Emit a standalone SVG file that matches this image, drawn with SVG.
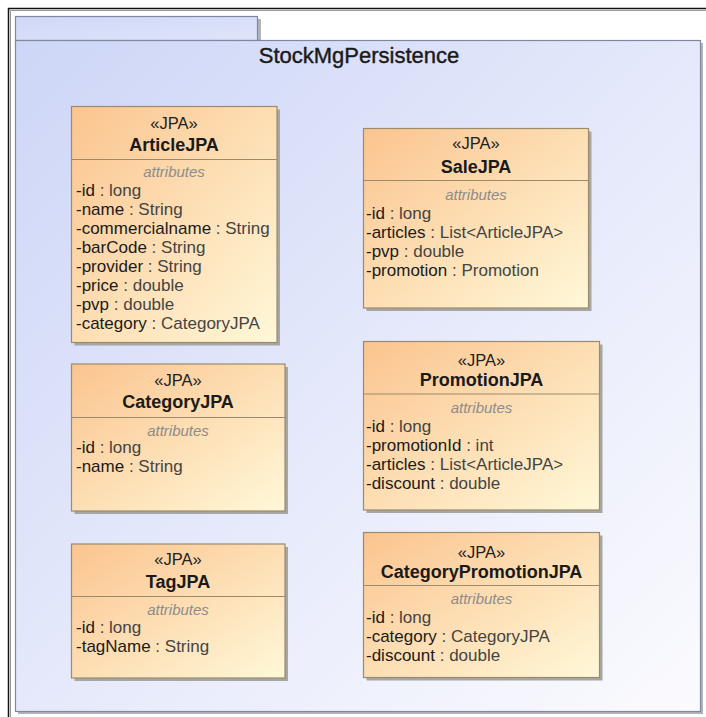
<svg xmlns="http://www.w3.org/2000/svg" width="706" height="717" viewBox="0 0 706 717">
<defs>
<linearGradient id="pkgGrad" x1="0" y1="0" x2="1" y2="1">
<stop offset="0" stop-color="#ced6f7"/>
<stop offset="1" stop-color="#fbfbfe"/>
</linearGradient>
<linearGradient id="tabGrad" x1="0" y1="0" x2="1" y2="1">
<stop offset="0" stop-color="#d0d8f7"/>
<stop offset="1" stop-color="#dfe4fa"/>
</linearGradient>
<linearGradient id="boxGrad" x1="0" y1="0" x2="1" y2="1">
<stop offset="0" stop-color="#fbc48f"/>
<stop offset="1" stop-color="#fff8d8"/>
</linearGradient>
</defs>
<style>
.frame{fill:none;stroke:#111;stroke-width:1.5}
.frame2{fill:none;stroke:#9a9a9a;stroke-width:1}
.pkg{fill:url(#pkgGrad);stroke:#7f889f;stroke-width:1.2}
.tab{fill:url(#tabGrad);stroke:#7f889f;stroke-width:1.2}
.pshadow{fill:#b3b3b8}
.shadow{fill:#a6a6a6}
.box{fill:url(#boxGrad);stroke:#9b8b6b;stroke-width:1.2}
.div{stroke:#9b8b6b;stroke-width:1.2}
.title{font-family:"Liberation Sans",Arial,sans-serif;font-size:22px;fill:#1a1a1a;stroke:#1a1a1a;stroke-width:0.4;text-anchor:middle}
.st{font-family:"Liberation Sans",Arial,sans-serif;font-size:16.5px;fill:#222;text-anchor:middle}
.nm{font-family:"Liberation Sans",Arial,sans-serif;font-size:18px;font-weight:bold;fill:#1a1a1a;text-anchor:middle}
.sec{font-family:"Liberation Sans",Arial,sans-serif;font-size:15px;font-style:italic;fill:#8c8c8c;text-anchor:middle}
.at{font-family:"Liberation Sans",Arial,sans-serif;font-size:17px;fill:#1a1a1a}
.ty{fill:#444}
</style>

<rect class="frame" x="8.5" y="8.5" width="710" height="720"/>
<rect class="frame2" x="10.5" y="10.5" width="710" height="720"/>

<g id="StockMgPersistence">
<rect class="pshadow" x="258" y="19" width="3" height="22"/>
<rect class="tab" x="15.5" y="16.5" width="242" height="24"/>
<rect class="pshadow" x="18" y="43" width="685" height="671"/>
<rect class="pkg" x="15.5" y="40.5" width="685" height="671"/>
<text class="title" x="359" y="63">StockMgPersistence</text>
</g>

<g id="ArticleJPA">
<rect class="shadow" x="74.5" y="109.5" width="205.5" height="236"/>
<rect class="box" x="71.5" y="106.5" width="205.5" height="236"/>
<line class="div" x1="71.5" y1="159.5" x2="277" y2="159.5"/>
<text class="st" x="174" y="129">«JPA»</text>
<text class="nm" x="174" y="151">ArticleJPA</text>
<text class="sec" x="174" y="177">attributes</text>
<text class="at" x="76" y="196">-id<tspan class="ty"> : long</tspan></text>
<text class="at" x="76" y="215">-name<tspan class="ty"> : String</tspan></text>
<text class="at" x="76" y="234">-commercialname<tspan class="ty"> : String</tspan></text>
<text class="at" x="76" y="253">-barCode<tspan class="ty"> : String</tspan></text>
<text class="at" x="76" y="272">-provider<tspan class="ty"> : String</tspan></text>
<text class="at" x="76" y="291">-price<tspan class="ty"> : double</tspan></text>
<text class="at" x="76" y="310">-pvp<tspan class="ty"> : double</tspan></text>
<text class="at" x="76" y="329">-category<tspan class="ty"> : CategoryJPA</tspan></text>
</g>

<g id="SaleJPA">
<rect class="shadow" x="366.5" y="131.5" width="225" height="179.5"/>
<rect class="box" x="363.5" y="128.5" width="225" height="179.5"/>
<line class="div" x1="363.5" y1="180.5" x2="588.5" y2="180.5"/>
<text class="st" x="476" y="149">«JPA»</text>
<text class="nm" x="476" y="173">SaleJPA</text>
<text class="sec" x="476" y="200">attributes</text>
<text class="at" x="366" y="219">-id<tspan class="ty"> : long</tspan></text>
<text class="at" x="366" y="238">-articles<tspan class="ty"> : List&lt;ArticleJPA&gt;</tspan></text>
<text class="at" x="366" y="257">-pvp<tspan class="ty"> : double</tspan></text>
<text class="at" x="366" y="276">-promotion<tspan class="ty"> : Promotion</tspan></text>
</g>

<g id="CategoryJPA">
<rect class="shadow" x="74.5" y="367" width="213.5" height="147"/>
<rect class="box" x="71.5" y="364" width="213.5" height="147"/>
<line class="div" x1="71.5" y1="417.5" x2="285" y2="417.5"/>
<text class="st" x="178" y="386">«JPA»</text>
<text class="nm" x="178" y="408">CategoryJPA</text>
<text class="sec" x="178" y="436">attributes</text>
<text class="at" x="76" y="453">-id<tspan class="ty"> : long</tspan></text>
<text class="at" x="76" y="472">-name<tspan class="ty"> : String</tspan></text>
</g>

<g id="PromotionJPA">
<rect class="shadow" x="366.5" y="344.5" width="236" height="168.5"/>
<rect class="box" x="363.5" y="341.5" width="236" height="168.5"/>
<line class="div" x1="363.5" y1="394" x2="599.5" y2="394"/>
<text class="st" x="481.5" y="366">«JPA»</text>
<text class="nm" x="481.5" y="386">PromotionJPA</text>
<text class="sec" x="481.5" y="413">attributes</text>
<text class="at" x="366" y="432">-id<tspan class="ty"> : long</tspan></text>
<text class="at" x="366" y="451">-promotionId<tspan class="ty"> : int</tspan></text>
<text class="at" x="366" y="470">-articles<tspan class="ty"> : List&lt;ArticleJPA&gt;</tspan></text>
<text class="at" x="366" y="489">-discount<tspan class="ty"> : double</tspan></text>
</g>

<g id="TagJPA">
<rect class="shadow" x="74.5" y="547" width="213.5" height="134"/>
<rect class="box" x="71.5" y="544" width="213.5" height="134"/>
<line class="div" x1="71.5" y1="596.5" x2="285" y2="596.5"/>
<text class="st" x="178" y="565">«JPA»</text>
<text class="nm" x="178" y="588">TagJPA</text>
<text class="sec" x="178" y="615">attributes</text>
<text class="at" x="76" y="633">-id<tspan class="ty"> : long</tspan></text>
<text class="at" x="76" y="652">-tagName<tspan class="ty"> : String</tspan></text>
</g>

<g id="CategoryPromotionJPA">
<rect class="shadow" x="366.5" y="535.5" width="236" height="145"/>
<rect class="box" x="363.5" y="532.5" width="236" height="145"/>
<line class="div" x1="363.5" y1="585.5" x2="599.5" y2="585.5"/>
<text class="st" x="481.5" y="557.5">«JPA»</text>
<text class="nm" x="481.5" y="577.5">CategoryPromotionJPA</text>
<text class="sec" x="481.5" y="604">attributes</text>
<text class="at" x="366" y="622.5">-id<tspan class="ty"> : long</tspan></text>
<text class="at" x="366" y="641.5">-category<tspan class="ty"> : CategoryJPA</tspan></text>
<text class="at" x="366" y="660.5">-discount<tspan class="ty"> : double</tspan></text>
</g>

<g id="connectors"></g>
</svg>
